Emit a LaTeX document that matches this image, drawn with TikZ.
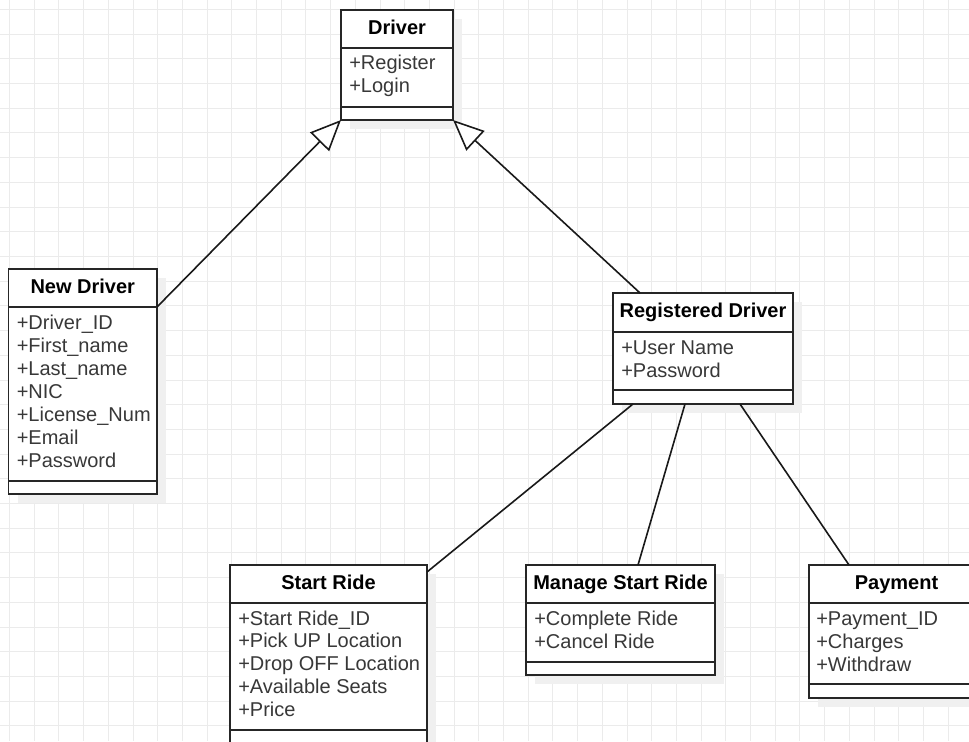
\documentclass[tikz,border=0pt]{standalone}
\usepackage{fontspec}
\setmainfont{Liberation Sans}
\usetikzlibrary{arrows.meta,calc}
\tikzset{
  wh/.style 2 args={minimum width=#1*0.75pt, minimum height=#2*0.75pt},
  umlbox/.style={draw=black!85, line width=1.3pt, fill=white, inner sep=0pt, outer sep=0pt, anchor=north west},
  umltitle/.style={umlbox, font=\fontsize{15}{17}\selectfont\bfseries, text=black, text height=11pt, text depth=3pt},
  attr/.style={inner sep=0pt, anchor=base west, font=\fontsize{15}{17}\selectfont, text=black!78},
  boxshadow/.style={fill=black!6, draw=none},
  gridline/.style={draw=black!8, line width=0.75pt},
  link/.style={draw=black!90, line width=1.2pt},
  inherit/.style={link, -{Triangle[fill=white, length=23pt, width=20pt]}}
}
\begin{document}
\begin{tikzpicture}[x=0.75pt, y=-0.75pt]
\useasboundingbox (0,0) rectangle (969,741);
\clip (0,0) rectangle (969,741);
\fill[white] (0,0) rectangle (969,741);
% grid
\foreach \k in {0,...,38} { \draw[gridline] ({9.5+24.7*\k},0) -- ({9.5+24.7*\k},741); }
\foreach \k in {0,...,29} { \draw[gridline] (0,{9.5+24.7*\k}) -- (969,{9.5+24.7*\k}); }
% shadows
\fill[boxshadow] (350,19) rectangle (462,129);
\fill[boxshadow] (17.5,278) rectangle (166,503);
\fill[boxshadow] (622,302) rectangle (802,413);
\fill[boxshadow] (239,574) rectangle (436,770);
\fill[boxshadow] (535,574) rectangle (724,684);
\fill[boxshadow] (818,574) rectangle (993,707);

% Driver
\node[umltitle, wh={112}{38}] (drvt) at (341,10) {Driver};
\node[umlbox, wh={112}{59}] (drva) at (341,48) {};
\node[umlbox, wh={112}{13}] (drvo) at (341,107) {};
\foreach \t [count=\i] in {+Register,+Login}
  \node[attr] (drv\i) at (349,{70+23*(\i-1)}) {\t};

% New Driver
\node[umltitle, wh={148.5}{38}] (ndt) at (8.5,269) {New Driver};
\node[umlbox, wh={148.5}{174}] (nda) at (8.5,307) {};
\node[umlbox, wh={148.5}{13}] (ndo) at (8.5,481) {};
\foreach \t [count=\i] in {+Driver\_ID,+First\_name,+Last\_name,+NIC,+License\_Num,+Email,+Password}
  \node[attr] (nd\i) at (16.5,{329+23*(\i-1)}) {\t};

% Registered Driver
\node[umltitle, wh={180}{39}] (regt) at (613,293) {Registered Driver};
\node[umlbox, wh={180}{58}] (rega) at (613,332) {};
\node[umlbox, wh={180}{14}] (rego) at (613,390) {};
\foreach \t [count=\i] in {+User Name,+Password}
  \node[attr] (reg\i) at (621,{354+23*(\i-1)}) {\t};

% Start Ride
\node[umltitle, wh={197}{38}] (srt) at (230,565) {Start Ride};
\node[umlbox, wh={197}{127}] (sra) at (230,603) {};
\node[umlbox, wh={197}{30}] (sro) at (230,730) {};
\foreach \t [count=\i] in {+Start Ride\_ID,+Pick UP Location,+Drop OFF Location,+Available Seats,+Price}
  \node[attr] (sr\i) at (238,{625+22.8*(\i-1)}) {\t};

% Manage Start Ride
\node[umltitle, wh={189}{38}] (mst) at (526,565) {Manage Start Ride};
\node[umlbox, wh={189}{59}] (msa) at (526,603) {};
\node[umlbox, wh={189}{13}] (mso) at (526,662) {};
\foreach \t [count=\i] in {+Complete Ride,+Cancel Ride}
  \node[attr] (ms\i) at (534,{625+23*(\i-1)}) {\t};

% Payment
\node[umltitle, wh={175}{38}] (payt) at (809,565) {Payment};
\node[umlbox, wh={175}{81}] (paya) at (809,603) {};
\node[umlbox, wh={175}{14}] (payo) at (809,684) {};
\foreach \t [count=\i] in {+Payment\_ID,+Charges,+Withdraw}
  \node[attr] (pay\i) at (816,{625+23*(\i-1)}) {\t};

% connectors
\draw[inherit] (ndt.south east) -- (drvo.south west);
\draw[inherit] ($(regt.north west)+(27,0)$) -- (drvo.south east);
\draw[link] ($(rego.south west)+(20,0)$) -- ($(srt.north east)+(0,7)$);
\draw[link] ($(rego.south west)+(72,0)$) -- ($(mst.north west)+(112,0)$);
\draw[link] ($(rego.south west)+(127,0)$) -- ($(payt.north west)+(40,0)$);
\end{tikzpicture}
\end{document}
